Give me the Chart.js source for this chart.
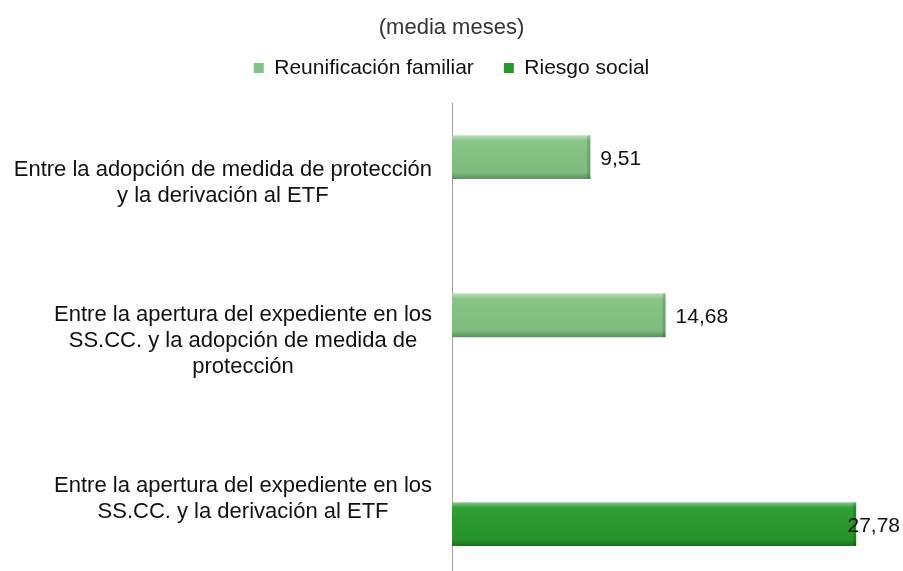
<!DOCTYPE html>
<html>
<head>
<meta charset="utf-8">
<script src="https://cdn.jsdelivr.net/npm/chart.js@4.4.1/dist/chart.umd.min.js"></script>
<style>
  html, body { margin: 0; padding: 0; background: #fff; overflow: hidden; }
  #wrap { width: 903px; height: 578px; position: relative; }
</style>
</head>
<body>
<div id="wrap"><canvas id="chart"></canvas></div>
<script>
// Category labels, one array of lines per category
const categories = [
    ['Entre la adopción de medida de protección', 'y la derivación al ETF'],
    ['Entre la apertura del expediente en los', 'SS.CC. y la adopción de medida de', 'protección'],
    ['Entre la apertura del expediente en los', 'SS.CC. y la derivación al ETF']
];
const reunificacion = [9.51, 14.68, null];
const riesgoSocial = [null, null, 27.78];
const seriesNames = ['Reunificación familiar', 'Riesgo social'];

const FONT = "'Liberation Sans', Arial, sans-serif";

// Left-side category labels: each block centred on itself, right edge near the axis
const categoryLabels = {
    id: 'categoryLabels',
    afterDraw(chart) {
        const ctx = chart.ctx;
        const yScale = chart.scales.y;
        const rightEdge = chart.chartArea.left - 20;
        ctx.save();
        ctx.font = '22px ' + FONT;
        ctx.fillStyle = '#111';
        ctx.textAlign = 'center';
        ctx.textBaseline = 'middle';
        categories.forEach((lines, i) => {
            const yc = yScale.getPixelForTick(i);
            const w = Math.max(...lines.map(l => ctx.measureText(l).width));
            const xc = rightEdge - w / 2;
            lines.forEach((line, j) => {
                ctx.fillText(line, xc, yc + (j - (lines.length - 1) / 2) * 26);
            });
        });
        ctx.restore();
    }
};

// Soft bevel on each bar
const barShade = {
    id: 'barShade',
    afterDatasetsDraw(chart) {
        const ctx = chart.ctx;
        chart.data.datasets.forEach((ds, di) => {
            chart.getDatasetMeta(di).data.forEach((bar, i) => {
                if (ds.data[i] == null) return;
                const { x, y, base, height } = bar.getProps(['x', 'y', 'base', 'height'], true);
                const top = y - height / 2;
                const g = ctx.createLinearGradient(0, top, 0, top + height);
                g.addColorStop(0, 'rgba(255,255,255,0.45)');
                g.addColorStop(0.12, 'rgba(255,255,255,0.05)');
                g.addColorStop(0.85, 'rgba(0,0,0,0.03)');
                g.addColorStop(1, 'rgba(0,0,0,0.28)');
                ctx.save();
                ctx.fillStyle = g;
                ctx.fillRect(base, top, x - base, height);
                ctx.fillStyle = 'rgba(0,0,0,0.15)';
                ctx.fillRect(x - 3, top, 3, height);
                ctx.restore();
            });
        });
    }
};

// Value labels at the end of each bar
const valueLabels = {
    id: 'valueLabels',
    afterDatasetsDraw(chart) {
        const ctx = chart.ctx;
        ctx.save();
        ctx.font = '21px ' + FONT;
        ctx.fillStyle = '#111';
        ctx.textBaseline = 'middle';
        ctx.textAlign = 'left';
        chart.data.datasets.forEach((ds, di) => {
            chart.getDatasetMeta(di).data.forEach((bar, i) => {
                const v = ds.data[i];
                if (v == null) return;
                const txt = v.toFixed(2).replace('.', ',');
                const w = ctx.measureText(txt).width;
                const x = Math.min(bar.x + 10, chart.width - w - 3);
                ctx.fillText(txt, x, bar.y + 2);
            });
        });
        ctx.restore();
    }
};

// Legend block height tweak so the plot starts lower
const legendGap = {
    id: 'legendGap',
    beforeInit(chart) {
        const fit = chart.legend.fit;
        chart.legend.fit = function () {
            fit.bind(chart.legend)();
            this.height += 15;
        };
    }
};

new Chart(document.getElementById('chart'), {
    type: 'bar',
    data: {
        labels: categories,
        datasets: [
            {
                label: seriesNames[0],
                data: reunificacion,
                backgroundColor: '#82c382',
                borderWidth: 0,
                categoryPercentage: 0.64,
                barPercentage: 0.86
            },
            {
                label: seriesNames[1],
                data: riesgoSocial,
                backgroundColor: '#27992a',
                borderWidth: 0,
                categoryPercentage: 0.64,
                barPercentage: 0.86
            }
        ]
    },
    options: {
        indexAxis: 'y',
        responsive: true,
        maintainAspectRatio: false,
        animation: false,
        layout: { padding: 0 },
        scales: {
            x: { display: false, min: 0, max: 31 },
            y: {
                afterFit(scale) { scale.width = 452; },
                ticks: { display: false },
                grid: { display: false },
                border: { display: true, color: '#a0a0a0', width: 1 }
            }
        },
        plugins: {
            title: {
                display: true,
                text: '(media meses)',
                color: '#333',
                font: { family: FONT, size: 22, weight: 'normal' },
                padding: { top: 15, bottom: -14 }
            },
            legend: {
                position: 'top',
                labels: {
                    color: '#111',
                    boxWidth: 10,
                    boxHeight: 10,
                    padding: 30,
                    font: { family: FONT, size: 21 }
                }
            },
            tooltip: { enabled: false }
        }
    },
    plugins: [legendGap, categoryLabels, barShade, valueLabels]
});
</script>
</body>
</html>
